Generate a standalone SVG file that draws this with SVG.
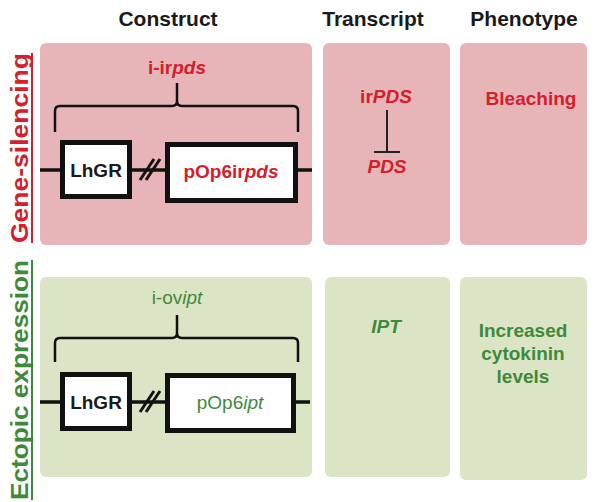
<svg xmlns="http://www.w3.org/2000/svg" width="600" height="502" viewBox="0 0 600 502">
<style>
.t{font-family:"Liberation Sans",Arial,sans-serif;font-weight:bold}
.hd{font-size:21px;fill:#1a1a1a;text-anchor:middle}
.red{fill:#d3202c}
.grn{fill:#3f8a3a}
.lab{font-size:19px;text-anchor:middle}
.pr{fill:#e7b5b8}
.pg{fill:#dbe5c6}
.box{fill:#fff;stroke:#111;stroke-width:5}
.ln{stroke:#111;stroke-width:3.5;fill:none}
.br{stroke:#111;stroke-width:2.5;fill:none}
</style>
<rect width="600" height="502" fill="#fff"/>
<g id="headers" class="t hd">
<text x="168" y="26">Construct</text>
<text x="373" y="26">Transcript</text>
<text x="524" y="26">Phenotype</text>
</g>
<g id="side-labels" class="t" font-size="24">
<text class="red" transform="translate(28,148) rotate(-90)" text-anchor="middle" textLength="190" lengthAdjust="spacingAndGlyphs">Gene-silencing</text>
<line x1="32" y1="53" x2="32" y2="243" stroke="#d3202c" stroke-width="2"/>
<text class="grn" transform="translate(28,380) rotate(-90)" text-anchor="middle" textLength="240" lengthAdjust="spacingAndGlyphs">Ectopic expression</text>
<line x1="32" y1="260" x2="32" y2="500" stroke="#3f8a3a" stroke-width="2"/>
</g>
<g id="panels">
<rect class="pr" x="40" y="43" width="272" height="202" rx="6"/>
<rect class="pr" x="323" y="43" width="127" height="202" rx="6"/>
<rect class="pr" x="460" y="43" width="127" height="202" rx="6"/>
<rect class="pg" x="40" y="277" width="272" height="200" rx="6"/>
<rect class="pg" x="325" y="277" width="125" height="200" rx="6"/>
<rect class="pg" x="460" y="277" width="127" height="203" rx="6"/>
</g>
<g id="connectors">
<line class="ln" x1="40" y1="170" x2="62" y2="170"/>
<line class="ln" x1="130" y1="170" x2="167" y2="170"/>
<line class="ln" x1="296" y1="170" x2="312" y2="170"/>
<line x1="140" y1="180" x2="154" y2="159" stroke="#111" stroke-width="3"/>
<line x1="146" y1="180" x2="160" y2="159" stroke="#111" stroke-width="3"/>
<path class="br" d="M55,132 V111 Q55,106 60,106 H172 Q177,106 177,101 V83 M177,101 Q177,106 182,106 H293 Q298,106 298,111 V132"/>
<line class="ln" x1="40" y1="402" x2="62" y2="402"/>
<line class="ln" x1="130" y1="402" x2="167" y2="402"/>
<line class="ln" x1="294" y1="402" x2="310" y2="402"/>
<line x1="140" y1="412" x2="154" y2="391" stroke="#111" stroke-width="3"/>
<line x1="146" y1="412" x2="160" y2="391" stroke="#111" stroke-width="3"/>
<path class="br" d="M55,362 V343 Q55,338 60,338 H172 Q177,338 177,333 V315 M177,333 Q177,338 182,338 H293 Q298,338 298,343 V362"/>
<line x1="387" y1="110" x2="387" y2="152" stroke="#222" stroke-width="2"/>
<line x1="374" y1="152" x2="400" y2="152" stroke="#222" stroke-width="2"/>
</g>
<g id="label-i-irpds" class="t lab red"><text x="177" y="74">i-ir<tspan font-style="italic">pds</tspan></text></g>
<g id="node-lhgr-1">
<rect class="box" x="62.5" y="142.5" width="67" height="54"/>
<text class="t lab" x="96" y="177" fill="#1a1a1a">LhGR</text>
</g>
<g id="node-pop6irpds">
<rect class="box" x="167.5" y="144.5" width="128" height="56"/>
<text class="t lab red" x="231" y="178">pOp6ir<tspan font-style="italic">pds</tspan></text>
</g>
<g id="node-irPDS" class="t lab red"><text x="386" y="103">ir<tspan font-style="italic">PDS</tspan></text></g>
<g id="node-PDS" class="t lab red"><text x="387" y="173" font-style="italic">PDS</text></g>
<g id="node-bleaching" class="t lab red"><text x="531" y="105">Bleaching</text></g>
<g id="label-i-ovipt" class="lab grn" font-family="Liberation Sans, Arial, sans-serif"><text x="177" y="304">i-ov<tspan font-style="italic">ipt</tspan></text></g>
<g id="node-lhgr-2">
<rect class="box" x="62.5" y="374.5" width="67" height="54"/>
<text class="t lab" x="96" y="409" fill="#1a1a1a">LhGR</text>
</g>
<g id="node-pop6ipt">
<rect class="box" x="167.5" y="375.5" width="126" height="55"/>
<text class="lab grn" font-family="Liberation Sans, Arial, sans-serif" x="230" y="409">pOp6<tspan font-style="italic">ipt</tspan></text>
</g>
<g id="node-IPT" class="t lab grn"><text x="386" y="333" font-style="italic">IPT</text></g>
<g id="node-cytokinin" class="t lab grn">
<text x="523" y="337">Increased</text>
<text x="523" y="360">cytokinin</text>
<text x="523" y="383">levels</text>
</g>
</svg>
